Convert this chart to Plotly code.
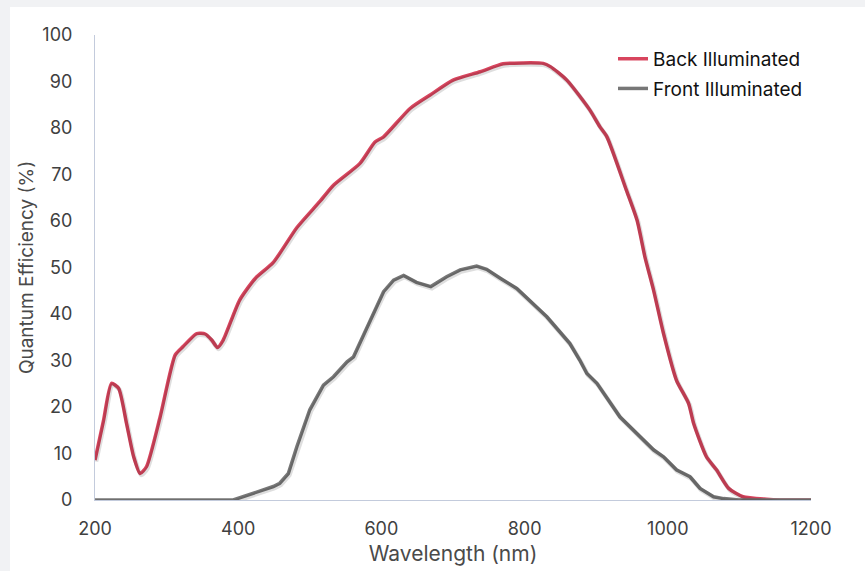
import plotly.graph_objects as go

# Back illuminated QE (%)
back_wl = [200, 212, 223, 233, 244, 254, 263, 272, 291, 312, 323, 342, 354, 363, 371, 379,
           402, 424, 449, 482, 514, 533, 570, 591, 603, 640, 668, 700, 738, 770, 798, 826,
           836, 859, 891, 905, 915, 942, 957, 968, 980, 994, 1012, 1029, 1036, 1054, 1068,
           1085, 1105, 1138, 1157, 1200]
back_qe = [8.6, 17.2, 25.1, 24.0, 16.5, 9.3, 5.7, 7.2, 17.9, 31.2, 33.0, 35.8, 35.7, 34.4, 32.8, 34.4,
           43.0, 47.7, 51.1, 58.6, 64.2, 67.7, 72.4, 77.0, 78.1, 84.2, 87.1, 90.3, 92.1, 93.8, 94.0, 93.9,
           93.2, 90.3, 83.9, 80.3, 78.1, 66.7, 60.2, 52.3, 45.2, 35.8, 25.8, 20.8, 16.5, 9.3, 6.5,
           2.5, 0.7, 0.15, 0.0, 0.0]

# Front illuminated QE (%)
front_wl = [200, 300, 393, 449, 458, 470, 482, 500, 519, 533, 552, 561, 584, 603, 617, 631,
            649, 669, 691, 710, 733, 747, 766, 789, 831, 863, 877, 887, 901, 933, 980, 994,
            1012, 1017, 1031, 1045, 1064, 1078, 1100, 1200]
front_qe = [0.0, 0.0, 0.0, 2.9, 3.6, 5.7, 11.5, 19.4, 24.7, 26.5, 29.7, 30.8, 38.7, 44.8, 47.3, 48.3,
            46.8, 45.9, 48.0, 49.5, 50.3, 49.6, 47.7, 45.5, 39.4, 33.7, 30.1, 27.2, 25.1, 17.9, 10.8, 9.3,
            6.5, 6.1, 5.0, 2.5, 0.7, 0.3, 0.0, 0.0]

x_ticks = [200, 400, 600, 800, 1000, 1200]
y_ticks = [0, 10, 20, 30, 40, 50, 60, 70, 80, 90, 100]

RED = "#d8455e"
GRAY = "#777777"
FONT = "Inter"

fig = go.Figure()

# subtle drop shadows (same data drawn on slightly offset overlay axes)
for wl, qe, shp in [(back_wl, back_qe, "spline"), (front_wl, front_qe, "linear")]:
    fig.add_trace(go.Scatter(x=wl, y=qe, mode="lines", xaxis="x2", yaxis="y2",
                             line=dict(color="rgba(0,0,0,0.13)", width=4.5, shape=shp, smoothing=0.6),
                             showlegend=False, hoverinfo="skip"))

fig.add_trace(go.Scatter(x=back_wl, y=back_qe, mode="lines", name="Back Illuminated",
                         legendgroup="b",
                         line=dict(color=RED, width=3.5, shape="spline", smoothing=0.6)))
fig.add_trace(go.Scatter(x=front_wl, y=front_qe, mode="lines", name="Front Illuminated",
                         legendgroup="f",
                         line=dict(color=GRAY, width=3.5)))

W, H = 865, 571
L, R, T, B = 95, 54, 35, 71
pw, ph = W - L - R, H - T - B

fig.add_shape(type="rect", xref="paper", yref="paper", layer="below",
              x0=-(L - 10) / pw, x1=(W - L + 5) / pw,
              y0=-(B + 5) / ph, y1=1 + (T - 7) / ph,
              fillcolor="white", line=dict(width=0))

axis_line = "#c3cbdc"
fig.update_layout(
    width=W, height=H,
    margin=dict(l=L, r=R, t=T, b=B, autoexpand=False),
    paper_bgcolor="#f1f2f4",
    plot_bgcolor="white",
    font=dict(family=FONT, color="#3f3f3f", size=18),
    xaxis=dict(range=[200, 1200], tickvals=x_ticks, showgrid=False, zeroline=False,
               showline=True, linecolor=axis_line, linewidth=1, ticks="",
               ticklabelstandoff=12, automargin=False,
               tickfont=dict(size=18, color="#404040"),
               title=dict(text="Wavelength (nm)", font=dict(size=21, color="#4a4a4a"), standoff=8)),
    yaxis=dict(range=[0, 100], tickvals=y_ticks, showgrid=False, zeroline=False,
               showline=True, linecolor=axis_line, linewidth=1, ticks="",
               ticklabelstandoff=18, automargin=False,
               tickfont=dict(size=18, color="#404040"),
               title=dict(text="Quantum Efficiency (%)", font=dict(size=19, color="#4a4a4a"), standoff=3)),
    xaxis2=dict(range=[198.5, 1198.5], overlaying="x", visible=False),
    yaxis2=dict(range=[0.35, 100.35], overlaying="y", visible=False),
    legend=dict(x=0.7235, y=0.9895, xanchor="left", yanchor="top",
                bgcolor="rgba(0,0,0,0)", font=dict(size=19, color="#111111"),
                itemwidth=30, tracegroupgap=2),
    showlegend=True,
)

fig.write_html(
    "out.html",
    config={"displayModeBar": False},
    post_script="document.body.style.margin='0';document.body.style.overflow='hidden';"
                "document.body.style.background='#f1f2f4';",
)
